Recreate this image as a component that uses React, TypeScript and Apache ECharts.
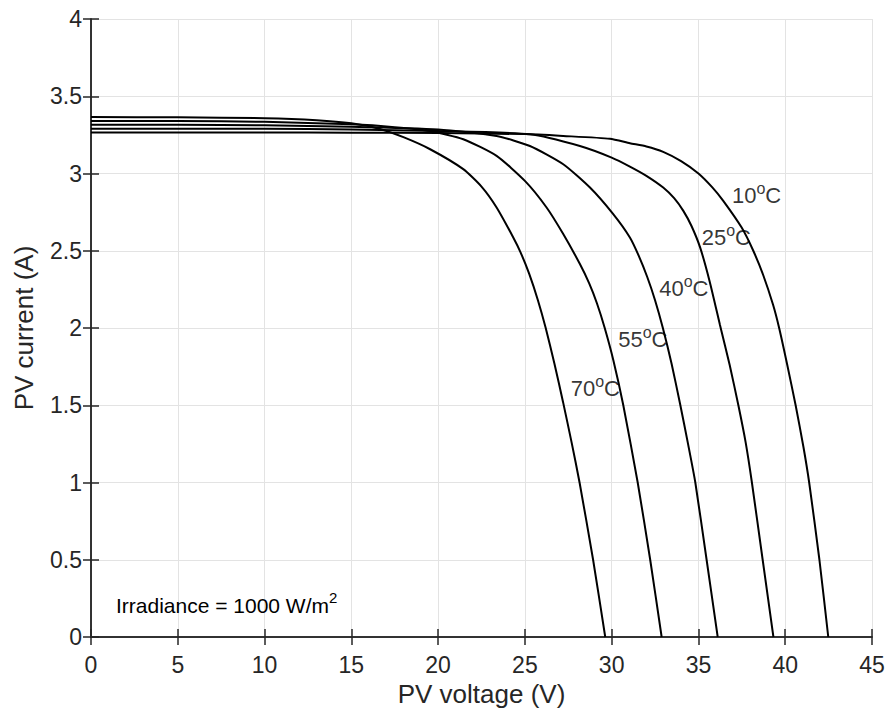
import React, { useEffect, useRef } from "react";
import * as echarts from "echarts";

// I-V curves: [voltage (V), current (A)]
const curve10C: [number, number][] = [
  [0, 3.265], [5, 3.265], [10, 3.265], [15, 3.264], [20, 3.262], [25, 3.255], [27.21, 3.243],
  [29.9, 3.225], [31.05, 3.196], [32.0, 3.175], [32.97, 3.14], [34, 3.08], [35, 3.0], [35.8, 2.91],
  [36.43, 2.823], [37.49, 2.65], [38.16, 2.5], [38.74, 2.34], [39.3, 2.15], [39.65, 2.0],
  [40.1, 1.77], [40.6, 1.5], [41.05, 1.23], [41.38, 1.0], [41.97, 0.5], [42.48, 0],
];
const curve25C: [number, number][] = [
  [0, 3.29], [5, 3.29], [10, 3.289], [15, 3.285], [20, 3.275], [25.29, 3.254], [28.17, 3.178],
  [30, 3.103], [31.05, 3.045], [32.0, 2.985], [32.97, 2.909], [33.6, 2.84], [34.13, 2.758],
  [34.6, 2.66], [35.1, 2.52], [35.65, 2.3], [36.24, 2.02], [36.8, 1.76], [37.3, 1.5],
  [37.72, 1.26], [38.08, 1.0], [38.7, 0.5], [39.32, 0],
];
const curve40C: [number, number][] = [
  [0, 3.315], [5, 3.315], [10, 3.312], [15, 3.303], [20, 3.285], [23.37, 3.243], [25.29, 3.178],
  [27.21, 3.06], [28.75, 2.909], [30.09, 2.737], [31.05, 2.586], [31.55, 2.47], [32.05, 2.33],
  [32.5, 2.18], [32.95, 2.0], [33.45, 1.77], [33.94, 1.51], [34.4, 1.25], [34.82, 1.0],
  [35.47, 0.5], [36.11, 0],
];
const curve55C: [number, number][] = [
  [0, 3.34], [5, 3.339], [10, 3.335], [15, 3.318], [17.5, 3.3], [19.54, 3.275], [21.45, 3.222],
  [23.37, 3.114], [25, 2.952], [26.25, 2.78], [27.21, 2.608], [28.17, 2.414], [28.7, 2.29],
  [29.15, 2.16], [29.6, 2.0], [30.1, 1.79], [30.67, 1.5], [31.5, 1.0], [32.22, 0.5], [32.88, 0],
];
const curve70C: [number, number][] = [
  [0, 3.365], [5, 3.364], [10, 3.358], [13, 3.345], [15, 3.325], [16.6, 3.29], [18, 3.235],
  [19.54, 3.157], [21.45, 3.028], [22.5, 2.915], [23.37, 2.78], [24.33, 2.586], [24.75, 2.49],
  [25.25, 2.35], [25.75, 2.18], [26.2, 2.0], [26.7, 1.77], [27.2, 1.52], [27.7, 1.255],
  [28.15, 1.0], [28.93, 0.5], [29.63, 0],
];

const curves = [curve10C, curve25C, curve40C, curve55C, curve70C];
const curveNames = ["10°C", "25°C", "40°C", "55°C", "70°C"];

// Temperature labels: [voltage of left edge, current of centre, temperature]
const tempLabels: [number, number, string][] = [
  [36.93, 2.86, "10"],
  [35.19, 2.584, "25"],
  [32.74, 2.254, "40"],
  [30.38, 1.925, "55"],
  [27.64, 1.608, "70"],
];

const irradianceValue = "1000";

const FONT = "'Liberation Sans', Arial, Helvetica, sans-serif";
const TXT = "#262626";

export default function App() {
  const ref = useRef<HTMLDivElement>(null);

  useEffect(() => {
    document.body.style.margin = "0";
    if (!ref.current) return;
    const chart = echarts.init(ref.current, undefined, { renderer: "svg" });

    const axisLine = { show: true, lineStyle: { color: TXT, width: 1.5 } };
    const gridLine = { show: true, lineStyle: { color: "#e3e3e3", width: 1 } };
    const tickIn = { show: true, inside: true, length: 8, lineStyle: { color: TXT, width: 1.5 } };

    const option: any = {
      animation: false,
      backgroundColor: "#ffffff",
      textStyle: { fontFamily: FONT },
      grid: { left: 91, right: 17, top: 19, bottom: 79, containLabel: false },
      xAxis: [
        {
          type: "value",
          min: 0,
          max: 45,
          interval: 5,
          name: "PV voltage (V)",
          nameLocation: "middle",
          nameGap: 43,
          nameTextStyle: { fontSize: 26, color: TXT, fontFamily: FONT },
          axisLine,
          axisTick: tickIn,
          splitLine: gridLine,
          axisLabel: { fontSize: 23, color: TXT, margin: 16, fontFamily: FONT },
        },
        {
          type: "value",
          position: "top",
          min: 0,
          max: 45,
          interval: 5,
          axisLine,
          axisTick: tickIn,
          splitLine: { show: false },
          axisLabel: { show: false },
        },
      ],
      yAxis: [
        {
          type: "value",
          min: 0,
          max: 4,
          interval: 0.5,
          name: "PV current (A)",
          nameLocation: "middle",
          nameGap: 54,
          nameTextStyle: { fontSize: 26, color: TXT, fontFamily: FONT },
          axisLine,
          axisTick: tickIn,
          splitLine: gridLine,
          axisLabel: { fontSize: 23, color: TXT, margin: 9, fontFamily: FONT },
        },
        {
          type: "value",
          position: "right",
          min: 0,
          max: 4,
          interval: 0.5,
          axisLine,
          axisTick: tickIn,
          splitLine: { show: false },
          axisLabel: { show: false },
        },
      ],
      series: [
        ...curves.map((c, i) => ({
          name: curveNames[i],
          type: "line",
          data: c,
          showSymbol: false,
          smooth: 0.2,
          lineStyle: { color: "#000000", width: 2 },
          z: 3,
        })),
        {
          name: "labels",
          type: "scatter",
          symbolSize: 0,
          data: tempLabels.map((d) => ({ value: [d[0], d[1]], t: d[2] })),
          label: {
            show: true,
            position: "right",
            distance: 0,
            formatter: (p: any) => `{a|${p.data.t}}{s|o}{a|C}`,
            rich: {
              a: { fontSize: 22, color: "#000", fontFamily: FONT, lineHeight: 30 },
              s: { fontSize: 16, color: "#000", fontFamily: FONT, lineHeight: 15, verticalAlign: "top" },
            },
          },
          z: 4,
        },
      ],
      graphic: [
        {
          type: "text",
          left: 116,
          top: 590,
          style: {
            text: `{a|Irradiance = ${irradianceValue} W/m}{s|2}`,
            rich: {
              a: { fontSize: 21, fill: "#000", fontFamily: FONT, lineHeight: 30 },
              s: { fontSize: 15, fill: "#000", fontFamily: FONT, lineHeight: 15, verticalAlign: "top" },
            },
          },
          z: 10,
        },
      ],
    };

    chart.setOption(option);
    return () => chart.dispose();
  }, []);

  return <div ref={ref} style={{ width: 889, height: 716 }} />;
}
